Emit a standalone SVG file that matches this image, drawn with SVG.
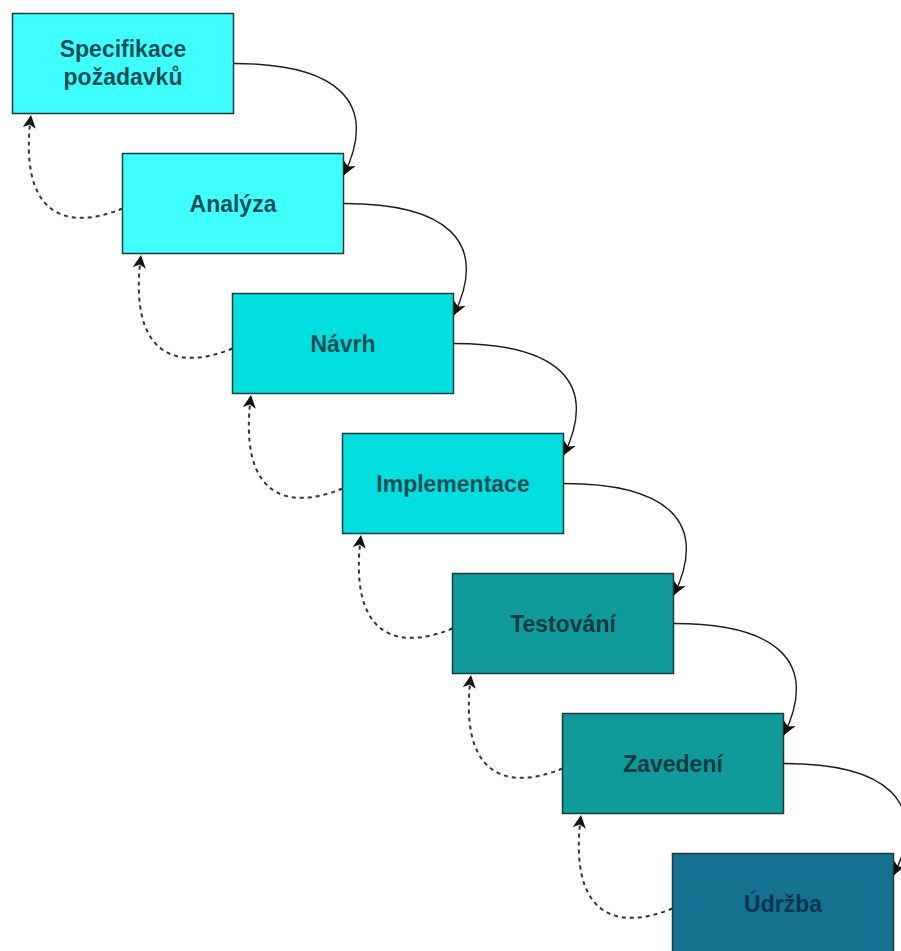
<svg xmlns="http://www.w3.org/2000/svg" width="901" height="951" viewBox="0 0 901 951">
  <style>
    .box { stroke: #1b3b3e; stroke-width: 1.5; }
    .lbl { font-family: "Liberation Sans", Arial, sans-serif; font-weight: bold; font-size: 23px; text-anchor: middle; }
    .fwd { fill: none; stroke: #1e1e1e; stroke-width: 1.4; marker-end: url(#headFwd); }
    .back { fill: none; stroke: #333; stroke-width: 2; stroke-dasharray: 4 4; marker-end: url(#headBack); }
    .c1 { fill: #40ffff; } .t1 { fill: #124f57; }
    .c2 { fill: #00dede; } .t2 { fill: #0e4f55; }
    .c3 { fill: #109a9a; } .t3 { fill: #0a3b40; }
    .c4 { fill: #14718f; } .t4 { fill: #0a3552; }
  </style>
  <defs>
    <marker id="headFwd" markerUnits="userSpaceOnUse" markerWidth="16" markerHeight="16" refX="13" refY="6.5" orient="auto">
      <path d="M0,0 L13,6.5 L0,13 L3.5,6.5 z" fill="#111"/>
    </marker>
    <marker id="headBack" markerUnits="userSpaceOnUse" markerWidth="16" markerHeight="16" refX="13" refY="6.5" orient="auto">
      <path d="M0,0 L13,6.5 L0,13 L3.5,6.5 z" fill="#111"/>
    </marker>
  </defs>
  <rect width="901" height="951" fill="#ffffff"/>

  <g id="node-specifikace">
    <rect class="box c1" x="12.5" y="13.5" width="221" height="100"/>
    <text class="lbl t1" x="123" y="57">Specifikace</text>
    <text class="lbl t1" x="123" y="85">požadavků</text>
  </g>
  <g id="node-analyza">
    <rect class="box c1" x="122.5" y="153.5" width="221" height="100"/>
    <text class="lbl t1" x="233" y="212">Analýza</text>
  </g>
  <g id="node-navrh">
    <rect class="box c2" x="232.5" y="293.5" width="221" height="100"/>
    <text class="lbl t2" x="343" y="352">Návrh</text>
  </g>
  <g id="node-implementace">
    <rect class="box c2" x="342.5" y="433.5" width="221" height="100"/>
    <text class="lbl t2" x="453" y="492">Implementace</text>
  </g>
  <g id="node-testovani">
    <rect class="box c3" x="452.5" y="573.5" width="221" height="100"/>
    <text class="lbl t3" x="563" y="632">Testování</text>
  </g>
  <g id="node-zavedeni">
    <rect class="box c3" x="562.5" y="713.5" width="221" height="100"/>
    <text class="lbl t3" x="673" y="772">Zavedení</text>
  </g>
  <g id="node-udrzba">
    <rect class="box c4" x="672.5" y="853.5" width="221" height="100"/>
    <text class="lbl t4" x="783" y="912">Údržba</text>
  </g>

  <g id="connectors">
    <!-- forward flow: right side of each phase into the next one -->
    <path class="fwd" d="M233.5,63.5 C335,63.5 380,100 344,175"/>
    <path class="fwd" d="M343.5,203.5 C445,203.5 490,240 454,315"/>
    <path class="fwd" d="M453.5,343.5 C555,343.5 600,380 564,455"/>
    <path class="fwd" d="M563.5,483.5 C665,483.5 710,520 674,595"/>
    <path class="fwd" d="M673.5,623.5 C775,623.5 820,660 784,735"/>
    <path class="fwd" d="M783.5,763.5 C885,763.5 930,800 894,875"/>
    <!-- feedback: left side of each phase back to the previous one -->
    <path class="back" d="M122.5,208.5 C65,232 18,215 31,115"/>
    <path class="back" d="M232.5,348.5 C175,372 128,355 141,255"/>
    <path class="back" d="M342.5,488.5 C285,512 238,495 251,395"/>
    <path class="back" d="M452.5,628.5 C395,652 348,635 361,535"/>
    <path class="back" d="M562.5,768.5 C505,792 458,775 471,675"/>
    <path class="back" d="M672.5,908.5 C615,932 568,915 581,815"/>
  </g>
</svg>
